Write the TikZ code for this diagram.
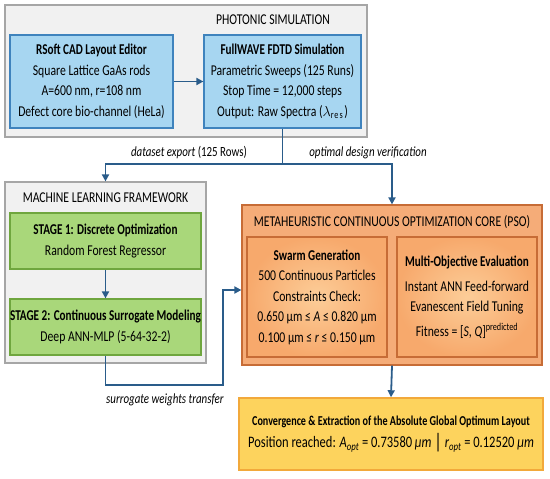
\documentclass[tikz,border=0pt]{standalone}
\usepackage{fontspec}
\setmainfont{Carlito}[FakeStretch=0.78, BoldFeatures={FakeStretch=0.745}]
\usetikzlibrary{arrows.meta}
\definecolor{grayfill}{HTML}{F1F1F1}
\definecolor{grayline}{HTML}{A6A6A6}
\definecolor{bluefill}{HTML}{A7D6F1}
\definecolor{blueline}{HTML}{3F83BD}
\definecolor{greenfill}{HTML}{A9D77A}
\definecolor{greenline}{HTML}{6FA63E}
\definecolor{orangefill}{HTML}{F5AC78}
\definecolor{orangeline}{HTML}{C76C36}
\definecolor{orangein}{HTML}{FCCD98}
\definecolor{orangeout}{HTML}{F7A96C}
\definecolor{yellowfill}{HTML}{FDD35D}
\definecolor{yellowline}{HTML}{F2A93B}
\definecolor{conn}{HTML}{2A5C8A}
\newcommand{\itx}[1]{\textit{#1}}
\begin{document}
\begin{tikzpicture}[x=1pt,y=-1pt,
  txt/.style={font=\fontsize{15}{20.5}\selectfont, align=center, text=black},
  frame/.style={draw=grayline, fill=grayfill, line width=1.2pt, inner sep=0pt},
  bluebox/.style={txt, draw=blueline, fill=bluefill, line width=1.2pt, inner sep=0pt},
  greenbox/.style={txt, draw=greenline, fill=greenfill, line width=1.2pt, inner sep=0pt},
  pso/.style={draw=orangeline, fill=orangefill, line width=1.2pt, inner sep=0pt},
  psoin/.style={txt, draw=orangeline, inner color=orangein, outer color=orangeout, line width=1.2pt, inner sep=0pt},
  result/.style={draw=yellowline, fill=yellowfill, line width=1.5pt, inner sep=0pt, align=center, font=\fontsize{13.6}{22}\selectfont},
  title/.style={font=\fontsize{15}{18}\selectfont},
  lbl/.style={font=\fontsize{14}{17}\selectfont},
  link/.style={draw=conn, line width=1.8pt},
  arr/.style={link, -{Triangle[length=7pt,width=7pt]}}
]
\useasboundingbox (0,0) rectangle (550,479);

% Photonic simulation
\node[frame, minimum width=362pt, minimum height=132pt] (phot) at (186,71) {};
\node[title] (photT) at (273,20) {PHOTONIC SIMULATION};
\node[bluebox, minimum width=163pt, minimum height=93pt] (rsoft) at (91.5,81.5)
 {\textbf{RSoft CAD Layout Editor}\\Square Lattice GaAs rods\\A=600 nm, r=108 nm\\Defect core bio-channel (HeLa)};
\node[bluebox, minimum width=157pt, minimum height=93pt] (full) at (282.5,81.5)
 {\textbf{FullWAVE FDTD Simulation}\\Parametric Sweeps (125 Runs)\\Stop Time = 12,000 steps\\Output: Raw Spectra ($\lambda_{\mathrm{res}}$)};

% Machine learning
\node[frame, minimum width=201pt, minimum height=181pt] (ml) at (105.5,272.5) {};
\node[title] (mlT) at (105.5,198) {MACHINE LEARNING FRAMEWORK};
\node[greenbox, minimum width=191pt, minimum height=56pt] (s1) at (105.5,241)
 {\textbf{STAGE 1: Discrete Optimization}\\Random Forest Regressor};
\node[greenbox, minimum width=191pt, minimum height=56pt] (s2) at (105.5,327)
 {\textbf{STAGE 2: Continuous Surrogate Modeling}\\Deep ANN-MLP (5-64-32-2)};

% PSO core
\node[pso, minimum width=300pt, minimum height=160pt] (core) at (392,285) {};
\node[title] (coreT) at (392,222) {METAHEURISTIC CONTINUOUS OPTIMIZATION CORE (PSO)};
\node[psoin, minimum width=140pt, minimum height=120pt] (swarm) at (317,297)
 {\textbf{Swarm Generation}\\500 Continuous Particles\\Constraints Check:\\0.650 μm ≤ \itx{A} ≤ 0.820 μm\\0.100 μm ≤ \itx{r} ≤ 0.150 μm};
\node[psoin, minimum width=140pt, minimum height=120pt] (multi) at (467,297)
 {\textbf{Multi-Objective Evaluation}\\[4pt]Instant ANN Feed-forward\\Evanescent Field Tuning\\[4pt]Fitness = [\itx{S}, \itx{Q}]\textsuperscript{predicted}};

% Result
\node[result, minimum width=304pt, minimum height=72pt] (res) at (391,434)
 {\textbf{Convergence \& Extraction of the Absolute Global Optimum Layout}\\
  {\fontsize{16}{22}\selectfont Position reached: \itx{A}\textsubscript{\itx{opt}} = 0.73580 \itx{μm} {\fontsize{21}{22}\selectfont\raisebox{-1pt}{|}} \itx{r}\textsubscript{\itx{opt}} = 0.12520 \itx{μm}}};

% Connectors
\coordinate (split) at (282.5,164);
\draw[arr] (rsoft.east) -- (full.west);
\draw[link] (full.south) -- (split);
\draw[arr] (split) -| (ml.north);
\draw[arr] (split) -| (core.north);
\draw[arr] (s1.south) -- (s2.north);
\coordinate (bend) at (223,385);
\draw[arr] (s2.south) |- (bend) |- ([yshift=-5pt]core.west);
\draw[arr] (core.south) -- (res.north);

% Labels
\node[lbl] (l1) at (189,153) {\textit{dataset export} (125 Rows)};
\node[lbl] (l2) at (368,153) {\textit{optimal design verification}};
\node[lbl] (l3) at (165,400) {\textit{surrogate weights transfer}};
\end{tikzpicture}
\end{document}
